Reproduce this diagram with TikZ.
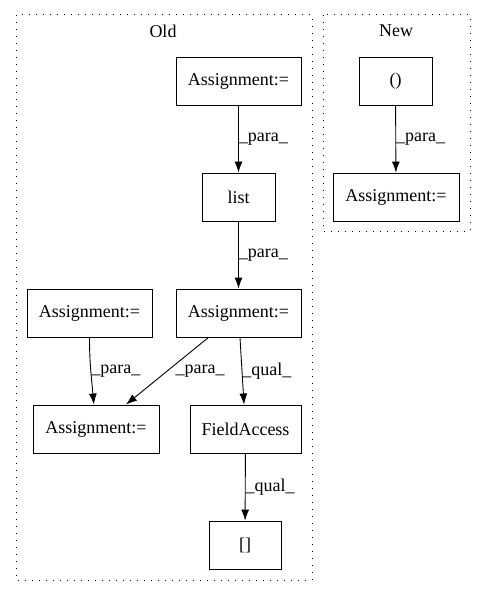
\documentclass[tikz,border=0pt]{standalone}
\usepackage{fontspec}
\setmainfont{Liberation Serif}
\usetikzlibrary{arrows.meta,positioning}

\begin{document}
\begin{tikzpicture}[x=1pt, y=-1pt, font=\fontsize{18}{20}\selectfont, line width=0.9pt,
	box/.style={draw, rectangle, minimum height=48pt, inner sep=0pt},
	flow/.style={-{Latex[length=11pt,width=8pt]}},
	lbl/.style={anchor=west, inner sep=0pt},
	cluster/.style={draw, line width=1pt, dash pattern=on 1pt off 6pt}]
	\useasboundingbox (0,0) rectangle (485,596);
	% clusters
	\draw[cluster] (16,15) rectangle (312,580);
	\draw[cluster] (323,15) rectangle (470,231);
	\node (old) at (163,31) {Old};
	\node (new) at (396,31) {New};
	% old
	\node[box, minimum width=125pt] (A1) at (238.5,81) {Assignment:=};
	\node[box, minimum width=73pt] (list) at (238.5,197) {list};
	\node[box, minimum width=125pt] (A2) at (238.5,313) {Assignment:=};
	\node[box, minimum width=125pt] (A3) at (89.5,313) {Assignment:=};
	\node[box, minimum width=126pt] (A4) at (96,429) {Assignment:=};
	\node[box, minimum width=111pt] (FA) at (245.5,429) {FieldAccess};
	\node[box, minimum width=72pt] (idx) at (245,545) {[]};
	% new
	\node[box, minimum width=73pt] (par) at (395.5,81) {()};
	\node[box, minimum width=126pt] (A5) at (396,197) {Assignment:=};
	% edges
	\draw[flow] (A1) -- (list) node[lbl, midway] {\_para\_};
	\draw[flow] (list) -- (A2) node[lbl, midway] {\_para\_};
	\draw[flow] (A3) to[out=-90, in=95] node[lbl, midway] {\_para\_} (A4);
	\draw[flow] (A2) -- (A4) node[lbl, midway, xshift=8pt] {\_para\_};
	\draw[flow] (A2) -- (FA) node[lbl, midway] {\_qual\_};
	\draw[flow] (FA) -- (idx) node[lbl, midway] {\_qual\_};
	\draw[flow] (par) -- (A5) node[lbl, midway] {\_para\_};
\end{tikzpicture}
\end{document}
